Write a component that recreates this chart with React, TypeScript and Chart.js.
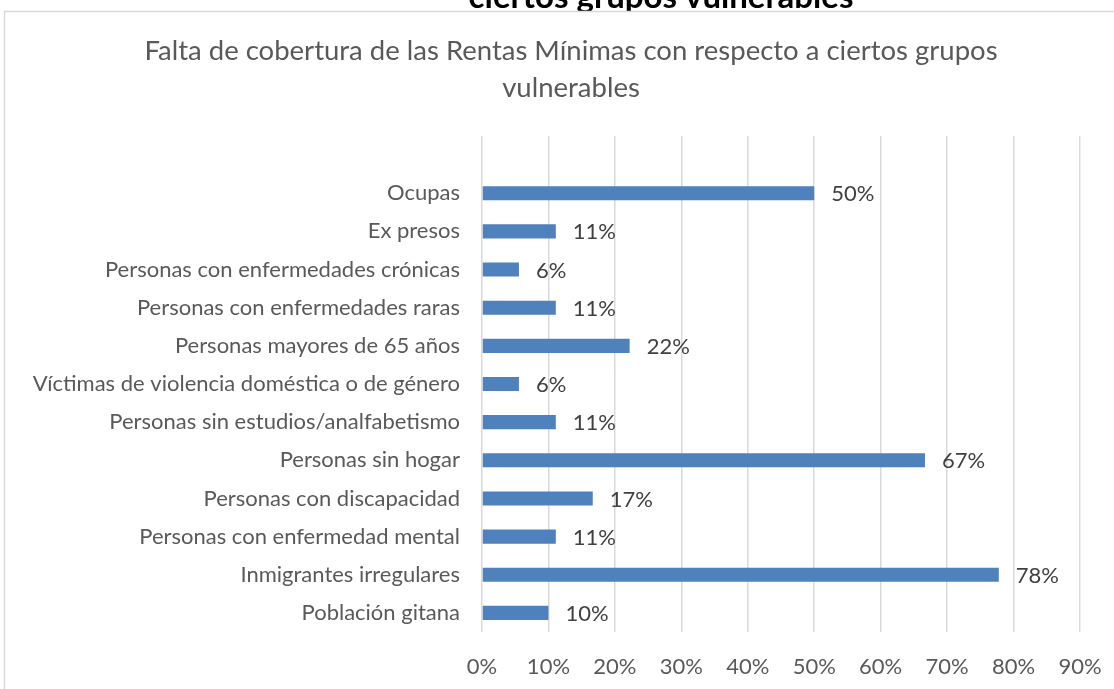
import React, { useEffect, useRef } from "react";
import { Chart, registerables } from "chart.js";

Chart.register(...registerables);

const categories: string[] = [
  "",
  "Ocupas",
  "Ex presos",
  "Personas con enfermedades crónicas",
  "Personas con enfermedades raras",
  "Personas mayores de 65 años",
  "Víctimas de violencia doméstica o de género",
  "Personas sin estudios/analfabetismo",
  "Personas sin hogar",
  "Personas con discapacidad",
  "Personas con enfermedad mental",
  "Inmigrantes irregulares",
  "Población gitana",
];

const values: (number | null)[] = [
  null, 50, 11.11, 5.56, 11.11, 22.22, 5.56, 11.11, 66.67, 16.67, 11.11, 77.78, 10,
];

const xTicks: number[] = [0, 10, 20, 30, 40, 50, 60, 70, 80, 90];

const titleLines: string[] = [
  "Falta de cobertura de las Rentas Mínimas con respecto a ciertos grupos",
  "vulnerables",
];
const clippedHeading = "ciertos grupos vulnerables";

const FONT = "Lato, 'Open Sans', sans-serif";

const decorPlugin = {
  id: "decor",
  beforeDraw(chart: any) {
    const { ctx, width, height } = chart;
    ctx.save();
    ctx.fillStyle = "#ffffff";
    ctx.fillRect(0, 0, width, height);
    // clipped heading above the box
    ctx.save();
    ctx.beginPath();
    ctx.rect(0, 0, width, 11);
    ctx.clip();
    ctx.fillStyle = "#000000";
    ctx.font = `bold 33px ${FONT}`;
    ctx.textAlign = "center";
    ctx.textBaseline = "alphabetic";
    ctx.fillText(clippedHeading, 661, 8);
    ctx.restore();
    // outer chart border (partially visible)
    ctx.strokeStyle = "#d9d9d9";
    ctx.lineWidth = 1.5;
    ctx.beginPath();
    ctx.moveTo(4.5, height + 2);
    ctx.lineTo(4.5, 11.5);
    ctx.lineTo(width + 2, 11.5);
    ctx.stroke();
    // title
    ctx.fillStyle = "#595959";
    ctx.font = `27.5px ${FONT}`;
    ctx.textAlign = "center";
    ctx.textBaseline = "middle";
    ctx.fillText(titleLines[0], 571, 51);
    ctx.fillText(titleLines[1], 571, 88);
    ctx.restore();
  },
  afterDatasetsDraw(chart: any) {
    const { ctx } = chart;
    const meta = chart.getDatasetMeta(0);
    ctx.save();
    ctx.fillStyle = "#404040";
    ctx.font = `22px ${FONT}`;
    ctx.textAlign = "left";
    ctx.textBaseline = "middle";
    meta.data.forEach((bar: any, i: number) => {
      const v = values[i];
      if (v === null || v === undefined) return;
      ctx.fillText(`${Math.round(v)}%`, bar.x + 17, bar.y + 1);
    });
    ctx.restore();
  },
};

export default function App() {
  const ref = useRef<HTMLCanvasElement | null>(null);
  useEffect(() => {
    if (!ref.current) return;
    const chart = new Chart(ref.current, {
      type: "bar",
      data: {
        labels: categories,
        datasets: [
          {
            data: values as any,
            backgroundColor: "#4f81bd",
            borderColor: "#4f81bd",
            borderWidth: 0,
            barPercentage: 0.37,
            categoryPercentage: 1,
          },
        ],
      },
      options: {
        indexAxis: "y",
        animation: false,
        responsive: false,
        maintainAspectRatio: false,
        layout: { padding: { top: 136, right: 34, left: 0, bottom: 0 } },
        plugins: {
          legend: { display: false },
          tooltip: { enabled: false },
          title: { display: false },
        },
        scales: {
          x: {
            min: 0,
            max: 90,
            afterBuildTicks: (scale: any) => {
              scale.ticks = xTicks.map((v) => ({ value: v }));
            },
            afterFit: (scale: any) => {
              scale.height = 57;
              scale.paddingLeft = 0;
              scale.paddingRight = 0;
            },
            grid: { color: "#d9d9d9", lineWidth: 1.5, drawTicks: false },
            border: { display: false },
            ticks: {
              color: "#595959",
              font: { family: FONT, size: 22 },
              padding: 22,
              callback: (v: any) => `${v}%`,
            },
          },
          y: {
            afterFit: (scale: any) => {
              scale.width = 482;
              scale.paddingTop = 0;
              scale.paddingBottom = 0;
            },
            grid: { display: false, drawTicks: false },
            border: { display: false },
            ticks: {
              color: "#595959",
              font: { family: FONT, size: 22 },
              padding: 22,
              autoSkip: false,
            },
          },
        },
      },
      plugins: [decorPlugin],
    });
    return () => chart.destroy();
  }, []);
  return (
    <div style={{ position: "fixed", left: 0, top: 0, width: 1114, height: 689 }}>
      <canvas ref={ref} width={1114} height={689} style={{ display: "block" }} />
    </div>
  );
}
